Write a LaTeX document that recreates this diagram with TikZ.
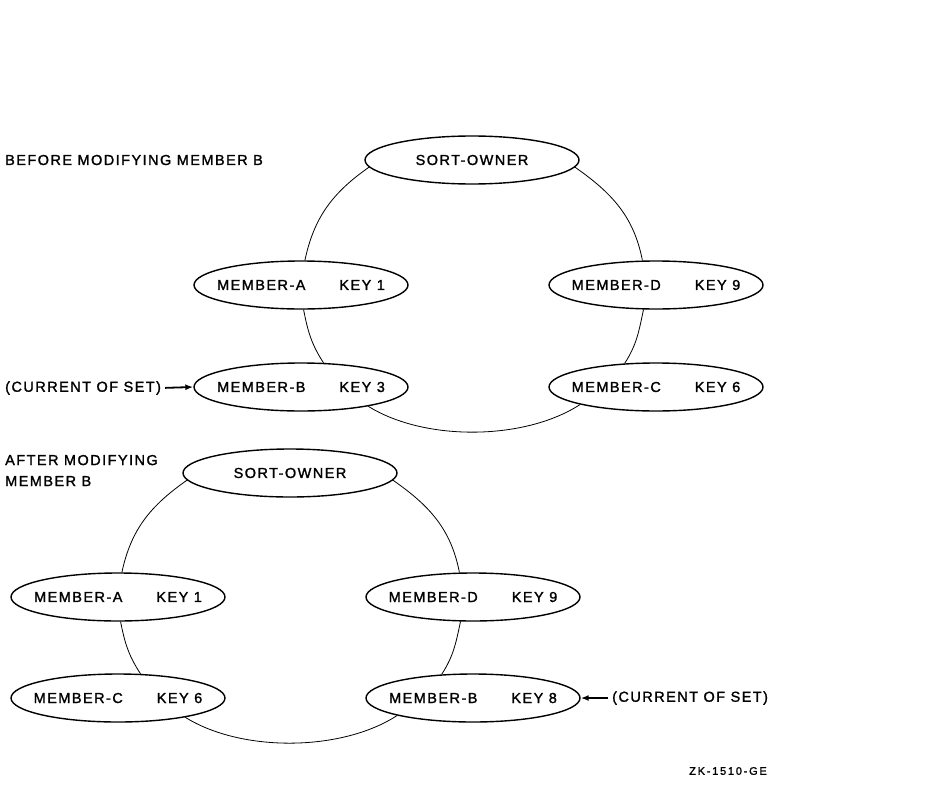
\documentclass[tikz,border=0pt]{standalone}
\usepackage{fontspec}
\setmainfont{Liberation Sans}[LetterSpace=10,FakeBold=1.5]
\newfontfamily\smallfont{Liberation Sans}[LetterSpace=16,FakeBold=1.5]
\usetikzlibrary{arrows.meta,shapes.geometric}
\newcommand{\rtxt}[1]{\makebox[0pt]{#1}}
\begin{document}
\begin{tikzpicture}[x=1pt,y=-1pt,
  txt/.style={font=\fontsize{14.5}{21}\selectfont, inner sep=0pt},
  rec/.style={txt, draw, ellipse, minimum width=214pt, minimum height=48pt, line width=1.4pt},
  link/.style={line width=0.8pt},
  ptr/.style={line width=1.8pt, -{Latex[length=8pt,width=6pt]}, shorten <=4pt}]
\useasboundingbox (0,0) rectangle (925,784);

% ---- before ----
\node[txt, anchor=west] (t1) at (5,160) {BEFORE MODIFYING MEMBER B};
\node[rec] (so1) at (472,160) {\rtxt{SORT-OWNER}};
\node[rec] (ma1) at (301,285) {\rtxt{MEMBER-A\hspace{34pt}KEY 1}};
\node[rec] (md1) at (656,285) {\rtxt{MEMBER-D\hspace{34pt}KEY 9}};
\node[rec] (mb1) at (301,387) {\rtxt{MEMBER-B\hspace{34pt}KEY 3}};
\node[rec] (mc1) at (656,387) {\rtxt{MEMBER-C\hspace{34pt}KEY 6}};
\draw[link] (so1.184) to[out=215,in=78] (ma1.81);
\draw[link] (so1.-4) to[out=325,in=101] (md1.119);
\draw[link] (ma1.-84) to[out=281,in=123] (mb1.47);
\draw[link] (md1.243) to[out=258,in=57] (mc1.143);
\draw[link] (mb1.-16) to[out=328,in=213,looseness=0.8] (mc1.193);
\node[txt, anchor=west] (cur1) at (5,388) {(CURRENT OF SET)};
\draw[ptr] (cur1.east) -- (mb1.west);

% ---- after ----
\node[txt, anchor=west, align=left] (t2) at (5,470.5) {AFTER MODIFYING\\MEMBER B};
\node[rec] (so2) at (290,473) {\rtxt{SORT-OWNER}};
\node[rec] (ma2) at (118,597) {\rtxt{MEMBER-A\hspace{34pt}KEY 1}};
\node[rec] (md2) at (473,597) {\rtxt{MEMBER-D\hspace{34pt}KEY 9}};
\node[rec] (mc2) at (118,698) {\rtxt{MEMBER-C\hspace{34pt}KEY 6}};
\node[rec] (mb2) at (473,698) {\rtxt{MEMBER-B\hspace{34pt}KEY 8}};
\draw[link] (so2.184) to[out=215,in=78] (ma2.81);
\draw[link] (so2.-4) to[out=325,in=101] (md2.119);
\draw[link] (ma2.-84) to[out=281,in=123] (mc2.47);
\draw[link] (md2.243) to[out=258,in=57] (mb2.143);
\draw[link] (mc2.-16) to[out=328,in=213,looseness=0.8] (mb2.193);
\node[txt, anchor=west] (cur2) at (612,698) {(CURRENT OF SET)};
\draw[ptr] (cur2.west) -- (mb2.east);

\node[inner sep=0pt, anchor=east, font=\smallfont\fontsize{11}{12}\selectfont] (zk) at (767,771) {ZK-1510-GE};
\end{tikzpicture}
\end{document}
